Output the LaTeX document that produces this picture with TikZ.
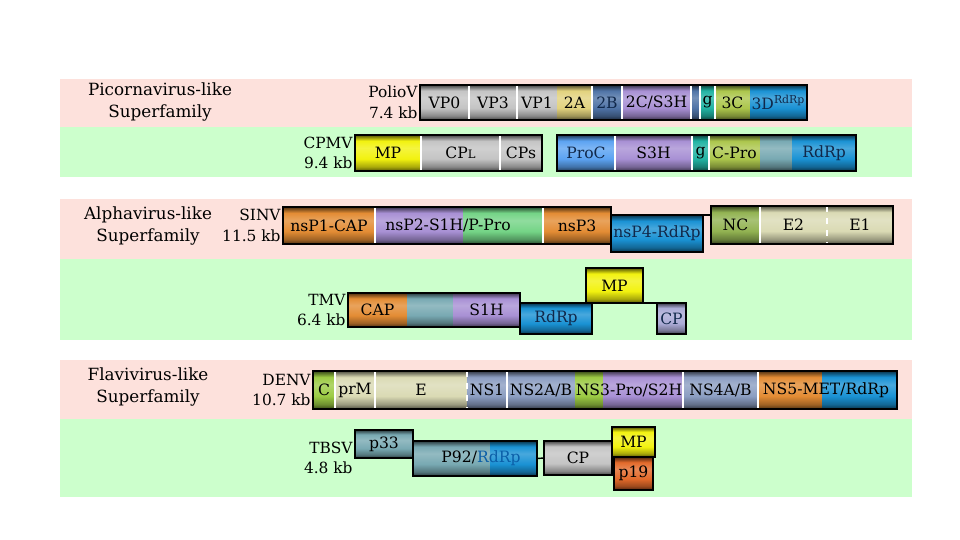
\documentclass[tikz,border=0pt]{standalone}
\usepackage{fontspec}
\setmainfont{DejaVu Serif}
\usepackage{tikz}
\usetikzlibrary{positioning}

\definecolor{bandPink}{HTML}{FDE1DC}
\definecolor{bandGreen}{HTML}{CCFFCC}
\definecolor{cGrey}{HTML}{C4C4C4}
\definecolor{cKhaki}{HTML}{E2D27E}
\definecolor{cSteel}{HTML}{4F73A6}
\definecolor{cLilac}{HTML}{A890D4}
\definecolor{cTeal}{HTML}{22B3A3}
\definecolor{cOlive}{HTML}{ACC64C}
\definecolor{cRdRp}{HTML}{1A92D4}
\definecolor{cYellow}{HTML}{F2F20F}
\definecolor{cSky}{HTML}{5CA3F2}
\definecolor{cSlateTeal}{HTML}{78A9B2}
\definecolor{cOrange}{HTML}{E38C34}
\definecolor{cLGreen}{HTML}{74D486}
\definecolor{cNC}{HTML}{92B352}
\definecolor{cBeige}{HTML}{DADAB4}
\definecolor{cYGreen}{HTML}{9CCB44}
\definecolor{cSlate}{HTML}{8C9EC2}
\definecolor{cLav}{HTML}{ABABD6}
\definecolor{cRed}{HTML}{E36A2A}
\definecolor{cRdRpText}{HTML}{0B5FA8}
\definecolor{cNavy}{HTML}{10284A}
\colorlet{segbase}{cGrey}

% dark rim, light band just above the middle
\pgfdeclareverticalshading[segbase]{segshade}{100bp}{color(0bp)=(segbase!35!black); color(25bp)=(segbase!35!black); color(31bp)=(segbase!70!black); color(42bp)=(segbase); color(57bp)=(segbase!80!white); color(67bp)=(segbase); color(75bp)=(segbase!35!black); color(100bp)=(segbase!35!black)}

\newcommand{\segfont}{\fontsize{7.8}{9}\selectfont}
\newcommand{\virfont}{\fontsize{7.7}{10.3}\selectfont}
\newcommand{\famfont}{\fontsize{8.4}{11}\selectfont}

\begin{document}
\begin{tikzpicture}[x=0.5pt, y=-0.5pt,
    seg/.style n args={3}{anchor=north west, inner sep=0pt, outer sep=0pt,
      /utils/exec={\colorlet{segbase}{#1}}, shading=segshade, shade,
      minimum width=#2*0.5pt, minimum height=#3*0.5pt, font=\segfont, text=black},
    segtext/.style={font=\segfont, text=black, inner sep=0pt},
    sepline/.style={white, line width=0.8pt},
    gborder/.style={draw=black, line width=0.9pt},
    vlabel/.style={align=right, font=\virfont, text=black, inner sep=1pt},
    famlabel/.style={align=center, font=\famfont, text=black},
    link/.style={black, line width=0.7pt}]
  \useasboundingbox (0,0) rectangle (960,540);

  % bands
  \fill[bandPink] (60,79) rectangle (912,127);
  \fill[bandGreen] (60,127) rectangle (912,177);
  \fill[bandPink] (60,199) rectangle (912,259);
  \fill[bandGreen] (60,259) rectangle (912,340);
  \fill[bandPink] (60,360) rectangle (912,419);
  \fill[bandGreen] (60,419) rectangle (912,497);

  \node[famlabel] (picorna) at (160,102) {Picornavirus-like\\Superfamily};
  \node[famlabel] (alpha) at (148,226) {Alphavirus-like\\Superfamily};
  \node[famlabel] (flavi) at (148,387) {Flavivirus-like\\Superfamily};

  % PolioV
  \node[seg={cGrey}{49}{35}] (vp0) at (420,85) {VP0};
  \node[seg={cGrey}{48}{35}] (vp3) at (469,85) {VP3};
  \node[seg={cGrey}{40}{35}] (vp1) at (517,85) {VP1};
  \node[seg={cKhaki}{35}{35}] (p2a) at (557,85) {2A};
  \node[seg={cSteel}{30}{35}, text=cNavy] (p2b) at (592,85) {2B};
  \node[seg={cLilac}{69}{35}] (p2c) at (622,85) {2C/S3H};
  \node[seg={cSteel}{9}{35}] (p3a) at (691,85) {};
  \node[seg={cTeal}{15}{35}] (p3b) at (700,85) {g};
  \node[seg={cOlive}{35}{35}] (p3c) at (715,85) {3C};
  \node[seg={cRdRp}{57}{35}, text=cNavy] (p3d) at (750,85) {3D\textsuperscript{RdRp}};
  \foreach \s in {vp0,vp3,p2a,p2b,p2c,p3a,p3b}
    \draw[sepline] (\s.north east) -- (\s.south east);
  \draw[gborder] (vp0.north west) rectangle (p3d.south east);
  \node[vlabel, left=0pt of vp0] (polio) {PolioV\\7.4 kb};

  % CPMV
  \node[seg={cYellow}{66}{36}] (cmp) at (355,135) {MP};
  \node[seg={cGrey}{79}{36}] (ccpl) at (421,135) {CP{\fontsize{5.8}{6}\selectfont L}};
  \node[seg={cGrey}{42}{36}] (ccps) at (500,135) {CPs};
  \node[seg={cSky}{58}{36}, text=cNavy] (cproc) at (557,135) {ProC};
  \node[seg={cLilac}{77}{36}] (cs3h) at (615,135) {S3H};
  \node[seg={cTeal}{17}{36}] (cg) at (692,135) {g};
  \node[seg={cOlive}{51}{36}] (ccpro) at (709,135) {C-Pro};
  \node[seg={cSlateTeal}{32}{36}] (cmid) at (760,135) {};
  \node[seg={cRdRp}{64}{36}, text=cNavy] (crdrp) at (792,135) {RdRp};
  \foreach \s in {cmp,ccpl,cproc,cs3h,cg}
    \draw[sepline] (\s.north east) -- (\s.south east);
  \draw[gborder] (cmp.north west) rectangle (ccps.south east);
  \draw[gborder] (cproc.north west) rectangle (crdrp.south east);
  \node[vlabel, left=0pt of cmp] (cpmv) {CPMV\\9.4 kb};

  % SINV
  \node[seg={cOrange}{92}{37}] (ns1) at (283,207) {nsP1-CAP};
  \node[seg={cLilac}{88}{37}] (ns2a) at (375,207) {};
  \node[seg={cLGreen}{80}{37}] (ns2b) at (463,207) {};
  \node[seg={cOrange}{68}{37}] (ns3) at (543,207) {nsP3};
  \node[segtext] (ns2lab) at (448,225.5) {nsP2-S1H/P-Pro};
  \foreach \s in {ns1,ns2b}
    \draw[sepline] (\s.north east) -- (\s.south east);
  \draw[gborder] (ns1.north west) rectangle (ns3.south east);
  \node[seg={cRdRp}{92}{37}, text=cNavy] (ns4) at (611,215) {nsP4-RdRp};
  \draw[gborder] (ns4.north west) rectangle (ns4.south east);
  \node[seg={cNC}{49}{38}] (nc) at (711,206) {NC};
  \node[seg={cBeige}{67}{38}] (e2) at (760,206) {E2};
  \node[seg={cBeige}{66}{38}] (e1) at (827,206) {E1};
  \draw[sepline] (nc.north east) -- (nc.south east);
  \draw[sepline, dashed] (e2.north east) -- (e2.south east);
  \draw[gborder] (nc.north west) rectangle (e1.south east);
  \draw[link] (ns4.north east) -- (ns4.north east -| nc.west);
  \node[vlabel, left=0pt of ns1] (sinv) {SINV\\11.5 kb};

  % TMV
  \node[seg={cOrange}{59}{34}] (tcap) at (348,293) {CAP};
  \node[seg={cSlateTeal}{46}{34}] (tmid) at (407,293) {};
  \node[seg={cLilac}{67}{34}] (ts1h) at (453,293) {S1H};
  \draw[gborder] (tcap.north west) rectangle (ts1h.south east);
  \node[seg={cRdRp}{72}{31}, text=cNavy] (trdrp) at (520,303) {RdRp};
  \draw[gborder] (trdrp.north west) rectangle (trdrp.south east);
  \node[seg={cYellow}{57}{35}] (tmp) at (586,268) {MP};
  \draw[gborder] (tmp.north west) rectangle (tmp.south east);
  \node[seg={cLav}{29}{31}, text=cNavy] (tcp) at (657,303) {CP};
  \draw[gborder] (tcp.north west) rectangle (tcp.south east);
  \draw[link] (tmp.south east) -- (tcp.north west);
  \node[vlabel, left=0pt of tcap] (tmv) {TMV\\6.4 kb};

  % DENV
  \node[seg={cYGreen}{22}{38}] (dc) at (313,371) {C};
  \node[seg={cBeige}{40}{38}] (dprm) at (335,371) {prM};
  \node[seg={cBeige}{92}{38}] (de) at (375,371) {E};
  \node[seg={cSlate}{40}{38}] (dns1) at (467,371) {NS1};
  \node[seg={cSlate}{68}{38}] (dns2) at (507,371) {NS2A/B};
  \node[seg={cYGreen}{28}{38}] (dns3a) at (575,371) {};
  \node[seg={cLilac}{80}{38}] (dns3b) at (603,371) {};
  \node[seg={cSlate}{75}{38}] (dns4) at (683,371) {NS4A/B};
  \node[seg={cOrange}{64}{38}] (dns5a) at (758,371) {};
  \node[seg={cRdRp}{75}{38}] (dns5b) at (822,371) {};
  \node[segtext] (ns3lab) at (629,390) {NS3-Pro/S2H};
  \node[segtext] (ns5lab) at (826,390) {NS5-MET/RdRp};
  \foreach \s in {dc,dprm,dns1,dns3b,dns4}
    \draw[sepline] (\s.north east) -- (\s.south east);
  \draw[sepline, dashed] (de.north east) -- (de.south east);
  \draw[gborder] (dc.north west) rectangle (dns5b.south east);
  \node[vlabel, left=0pt of dc] (denv) {DENV\\10.7 kb};

  % TBSV
  \node[seg={cSlateTeal}{58}{28}] (bp33) at (355,430) {p33};
  \draw[gborder] (bp33.north west) rectangle (bp33.south east);
  \node[seg={cSlateTeal}{77}{35}] (bp92a) at (413,441) {};
  \node[seg={cRdRp}{47}{35}] (bp92b) at (490,441) {};
  \node[segtext] (p92lab) at (481,458.5) {P92/\textcolor{cRdRpText}{RdRp}};
  \draw[gborder] (bp92a.north west) rectangle (bp92b.south east);
  \node[seg={cGrey}{68}{34}] (bcp) at (544,441) {CP};
  \draw[gborder] (bcp.north west) rectangle (bcp.south east);
  \node[seg={cYellow}{43}{30}] (bmp) at (612,427) {MP};
  \draw[gborder] (bmp.north west) rectangle (bmp.south east);
  \node[seg={cRed}{39}{33}] (bp19) at (614,457) {p19};
  \draw[gborder] (bp19.north west) rectangle (bp19.south east);
  \draw[link] (bp92b.east) -- (bcp.west);
  \node[vlabel, left=0pt of bp33.south west] (tbsv) {TBSV\\4.8 kb};
\end{tikzpicture}
\end{document}
